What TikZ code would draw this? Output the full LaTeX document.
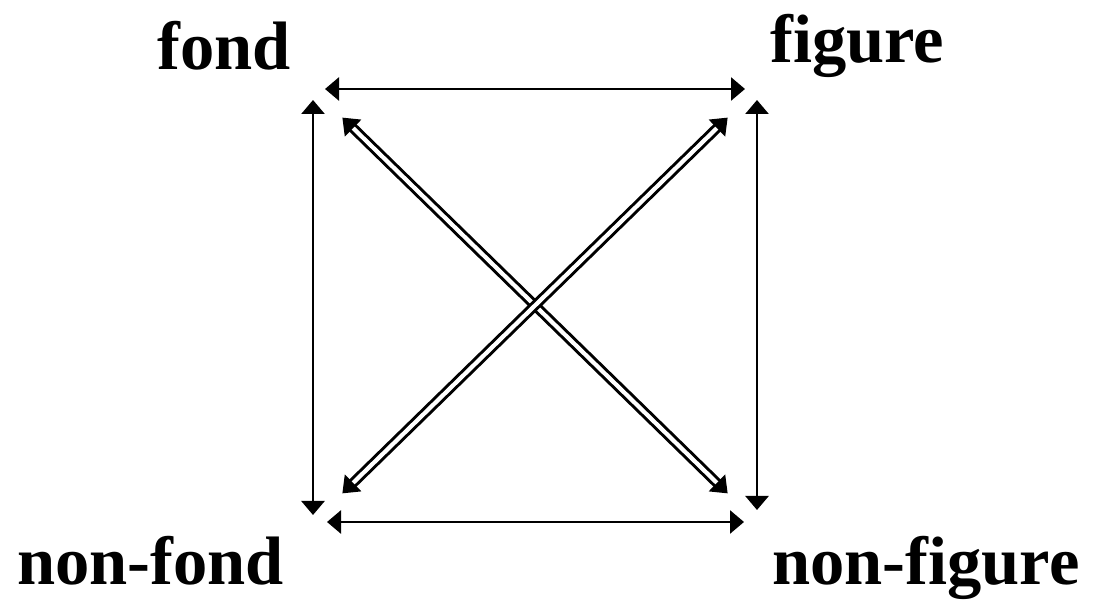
\documentclass[tikz,border=0pt]{standalone}
\usepackage{fontspec}
\setmainfont{Liberation Serif}
\usepackage{tikz}
\usetikzlibrary{arrows.meta,positioning,calc}

\begin{document}
\begin{tikzpicture}[
        lbl/.style={inner sep=0pt, anchor=base west, font=\fontsize{39}{40}\selectfont\bfseries},
        rel/.style={line width=1.5pt, {Triangle[length=0.28cm,width=0.46cm]}-{Triangle[length=0.28cm,width=0.46cm]}},
        opp/.style={double, double distance=2.4pt, line width=1.7pt,
            {Triangle[length=0.3cm,width=0.46cm]}-{Triangle[length=0.3cm,width=0.46cm]},
            shorten <=0.82cm, shorten >=0.82cm}
    ]
    \useasboundingbox (0,0) rectangle (22,12.22);

    % corners of the square
    \coordinate (fd) at (6.26,10.44);
    \coordinate (fg) at (15.14,10.44);
    \coordinate (nfd) at (6.26,1.78);
    \coordinate (nfg) at (15.14,1.78);

    % labels
    \node[lbl] (lfond) at (3.14,10.82) {fond};
    \node[lbl] (lfigure) at (15.40,10.96) {figure};
    \node[lbl] (lnonfond) at (0.34,0.52) {non-fond};
    \node[lbl] (lnonfigure) at (15.44,0.52) {non-figure};

    % sides
    \draw[rel] ($(fd)+(0.24,0)$) -- ($(fg)+(-0.24,0)$);
    \draw[rel] ($(nfd)+(0.28,0)$) -- ($(nfg)+(-0.26,0)$);
    \draw[rel] ($(fd)+(0,-0.22)$) -- ($(nfd)+(0,0.14)$);
    \draw[rel] ($(fg)+(0,-0.22)$) -- ($(nfg)+(0,0.24)$);

    % diagonals
    \draw[opp] (fd) -- (nfg);
    \draw[opp] (fg) -- (nfd);
\end{tikzpicture}
\end{document}
